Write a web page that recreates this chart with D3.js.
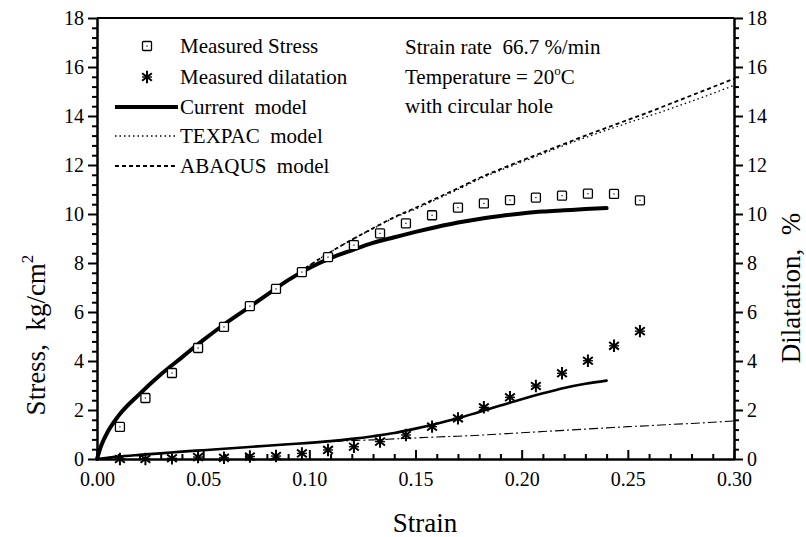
<!DOCTYPE html>
<html><head><meta charset="utf-8">
<script src="https://cdn.jsdelivr.net/npm/d3@7/dist/d3.min.js"></script>
<style>
body{margin:0;background:#fff}
svg text{font-family:"Liberation Serif","Times New Roman",serif;fill:#000}
</style>
</head><body>
<svg id="c" width="806" height="537"></svg>
<script>
// ---------- data ----------
const measStrain = [0.0108,0.0228,0.0353,0.0476,0.0598,0.0720,0.0843,0.0965,0.1088,0.1210,0.1333,0.1455,0.1578,0.1700,0.1822,0.1945,0.2067,0.2190,0.2312,0.2435,0.2557];
const measStress = [1.31,2.49,3.51,4.53,5.39,6.24,6.94,7.63,8.24,8.73,9.21,9.62,9.95,10.26,10.43,10.57,10.67,10.75,10.83,10.82,10.56];
const measDilat  = [0.00,0.00,0.03,0.08,0.05,0.10,0.12,0.23,0.37,0.50,0.71,0.98,1.32,1.66,2.11,2.52,2.98,3.50,4.01,4.62,5.22];

const curStrain = [0,0.002,0.005,0.01,0.02,0.03,0.04,0.05,0.06,0.07,0.08,0.09,0.10,0.11,0.12,0.13,0.14,0.15,0.16,0.17,0.18,0.19,0.20,0.21,0.22,0.23,0.24];
const curStress = [0,0.55,1.1,1.75,2.65,3.45,4.15,4.85,5.5,6.1,6.7,7.3,7.8,8.2,8.52,8.82,9.05,9.27,9.47,9.65,9.8,9.92,10.02,10.1,10.15,10.2,10.24];
const curDilat  = [0,0.02,0.05,0.1,0.17,0.23,0.3,0.36,0.42,0.48,0.54,0.6,0.66,0.73,0.82,0.93,1.06,1.24,1.44,1.66,1.92,2.18,2.44,2.68,2.9,3.07,3.2];

const fullStrain = [0,0.002,0.005,0.01,0.02,0.03,0.04,0.05,0.06,0.07,0.08,0.09,0.10,0.11,0.12,0.13,0.14,0.15,0.16,0.17,0.18,0.19,0.20,0.21,0.22,0.23,0.24,0.25,0.26,0.27,0.28,0.29,0.30];
const texpacStress = [0,0.55,1.1,1.75,2.65,3.45,4.15,4.85,5.5,6.1,6.7,7.3,7.9,8.45,8.95,9.4,9.85,10.2,10.6,11.0,11.42,11.78,12.12,12.46,12.8,13.12,13.42,13.72,14.0,14.3,14.6,14.92,15.25];
const abaqusStress = [0,0.55,1.1,1.75,2.65,3.45,4.15,4.85,5.5,6.1,6.7,7.3,7.9,8.45,8.95,9.42,9.87,10.25,10.65,11.05,11.47,11.83,12.18,12.52,12.86,13.2,13.52,13.84,14.16,14.5,14.84,15.18,15.52];
const otherDilat = [0,0.02,0.05,0.1,0.17,0.23,0.3,0.36,0.42,0.48,0.54,0.6,0.66,0.71,0.75,0.78,0.82,0.86,0.9,0.93,0.97,1.02,1.07,1.12,1.17,1.22,1.27,1.32,1.36,1.41,1.45,1.5,1.55];

const yTicks = [0,2,4,6,8,10,12,14,16,18];
const xTicks = [0,0.05,0.10,0.15,0.20,0.25,0.30];

const legendItems = ["Measured Stress","Measured dilatation","Current  model","TEXPAC  model","ABAQUS  model"];

// ---------- scales ----------
const L=97,R=734,T=18,B=459;
const x = d3.scaleLinear().domain([0,0.30]).range([L,R]);
const y = d3.scaleLinear().domain([0,18]).range([B,T]);
const y2 = d3.scaleLinear().domain([0,18]).range([B,T]);

const svg = d3.select("#c");

// ---------- axes ----------
function styleAxis(g){
  g.select(".domain").attr("stroke","#000").attr("stroke-width",2);
  g.selectAll(".tick line").attr("stroke","#000").attr("stroke-width",2);
  g.selectAll(".tick text").style("font-size","20px").attr("fill","#000");
}
const minorY = d3.range(0,18.001,0.4).filter(v=>Math.abs(v/2-Math.round(v/2))>1e-6);
const minorX = d3.range(0,0.3001,0.01).filter(v=>Math.abs(v/0.05-Math.round(v/0.05))>1e-6);

// bottom
svg.append("g").attr("transform",`translate(0,${B})`)
  .call(d3.axisBottom(x).tickValues(minorX).tickSize(-5).tickSizeOuter(0).tickFormat(""))
  .call(styleAxis);
svg.append("g").attr("transform",`translate(0,${B})`)
  .call(d3.axisBottom(x).tickValues(xTicks).tickSize(-9).tickSizeOuter(0).tickPadding(13).tickFormat(d3.format(".2f")))
  .call(styleAxis);
// left
svg.append("g").attr("transform",`translate(${L},0)`)
  .call(d3.axisLeft(y).tickValues(minorY).tickSize(5).tickSizeOuter(0).tickFormat(""))
  .call(styleAxis);
svg.append("g").attr("transform",`translate(${L},0)`)
  .call(d3.axisLeft(y).tickValues(yTicks).tickSize(9).tickSizeOuter(0).tickPadding(4).tickFormat(d3.format("d")))
  .call(styleAxis);
// right
svg.append("g").attr("transform",`translate(${R},0)`)
  .call(d3.axisRight(y2).tickValues(minorY).tickSize(5).tickSizeOuter(0).tickFormat(""))
  .call(styleAxis);
svg.append("g").attr("transform",`translate(${R},0)`)
  .call(d3.axisRight(y2).tickValues(yTicks).tickSize(9).tickSizeOuter(0).tickPadding(4).tickFormat(d3.format("d")))
  .call(styleAxis);
// top frame
svg.append("line").attr("x1",L).attr("x2",R).attr("y1",T).attr("y2",T).attr("stroke","#000").attr("stroke-width",2);

// axis titles
svg.append("text").attr("x",425).attr("y",532).attr("text-anchor","middle").style("font-size","27px").text("Strain");
const yt = svg.append("text").attr("transform","translate(45,335) rotate(-90)").attr("text-anchor","middle").style("font-size","27px").attr("xml:space","preserve");
yt.append("tspan").text("Stress,  kg/cm");
yt.append("tspan").attr("dy",-12).style("font-size","17px").text("2");
svg.append("text").attr("transform","translate(800,288) rotate(-90)").attr("text-anchor","middle").style("font-size","27px").attr("xml:space","preserve").text("Dilatation,  %");

// ---------- lines ----------
const line = (ys,xs,sc)=>d3.line().x((d,i)=>x(xs[i])).y(d=>sc(d)).curve(d3.curveMonotoneX)(ys);

svg.append("path").attr("d",line(otherDilat,fullStrain,y2)).attr("fill","none").attr("stroke","#000").attr("stroke-width",1.1).attr("stroke-dasharray","9,3,2,3");
svg.append("path").attr("d",line(texpacStress,fullStrain,y)).attr("fill","none").attr("stroke","#000").attr("stroke-width",1.3).attr("stroke-dasharray","1.5,3");
svg.append("path").attr("d",line(abaqusStress,fullStrain,y)).attr("fill","none").attr("stroke","#000").attr("stroke-width",1.8).attr("stroke-dasharray","4,3");
svg.append("path").attr("d",line(curStress,curStrain,y)).attr("fill","none").attr("stroke","#000").attr("stroke-width",4).attr("stroke-linecap","round");
svg.append("path").attr("d",line(curDilat,curStrain,y2)).attr("fill","none").attr("stroke","#000").attr("stroke-width",2.6).attr("stroke-linecap","round");

// ---------- markers ----------
function square(g,cx,cy){
  g.append("rect").attr("x",cx-4.5).attr("y",cy-4.5).attr("width",9).attr("height",9).attr("rx",1)
   .attr("fill","#fff").attr("stroke","#000").attr("stroke-width",1.3);
  g.append("rect").attr("x",cx-0.6).attr("y",cy-0.6).attr("width",1.2).attr("height",1.2).attr("fill","#000");
}
function star(g,cx,cy){
  const r=6.2, p=[];
  [90,38,142].forEach(a=>{const rad=a*Math.PI/180;p.push(`M${cx-r*Math.cos(rad)},${cy-r*Math.sin(rad)}L${cx+r*Math.cos(rad)},${cy+r*Math.sin(rad)}`);});
  g.append("path").attr("d",p.join("")).attr("stroke","#000").attr("stroke-width",2).attr("fill","none");
  g.append("line").attr("x1",cx-5).attr("x2",cx+5).attr("y1",cy).attr("y2",cy).attr("stroke","#000").attr("stroke-width",1.4);
}
const mg = svg.append("g");
measStrain.forEach((s,i)=>square(mg,x(s),y(measStress[i])));
measStrain.forEach((s,i)=>star(mg,x(s),y2(measDilat[i])));

// ---------- legend ----------
const lg = svg.append("g");
const rowsY=[46,77,107,136,166];
square(lg,147,rowsY[0]);
star(lg,147,rowsY[1]);
lg.append("line").attr("x1",115).attr("x2",178).attr("y1",rowsY[2]).attr("y2",rowsY[2]).attr("stroke","#000").attr("stroke-width",4);
lg.append("line").attr("x1",115).attr("x2",178).attr("y1",rowsY[3]).attr("y2",rowsY[3]).attr("stroke","#000").attr("stroke-width",1.3).attr("stroke-dasharray","1.5,3");
lg.append("line").attr("x1",115).attr("x2",178).attr("y1",rowsY[4]).attr("y2",rowsY[4]).attr("stroke","#000").attr("stroke-width",1.8).attr("stroke-dasharray","4,3");
legendItems.forEach((t,i)=>{
  lg.append("text").attr("x",180).attr("y",rowsY[i]+7).style("font-size","21px").attr("xml:space","preserve").text(t);
});

// ---------- annotations ----------
const an = svg.append("g").style("font-size","21px");
an.append("text").attr("x",405).attr("y",54).attr("xml:space","preserve").text("Strain rate  66.7 %/min");
const t2 = an.append("text").attr("x",405).attr("y",84).attr("xml:space","preserve");
t2.append("tspan").text("Temperature = 20");
t2.append("tspan").attr("dy",-9).style("font-size","13px").text("o");
t2.append("tspan").attr("dy",9).text("C");
an.append("text").attr("x",405).attr("y",113).text("with circular hole");
</script>
</body></html>
